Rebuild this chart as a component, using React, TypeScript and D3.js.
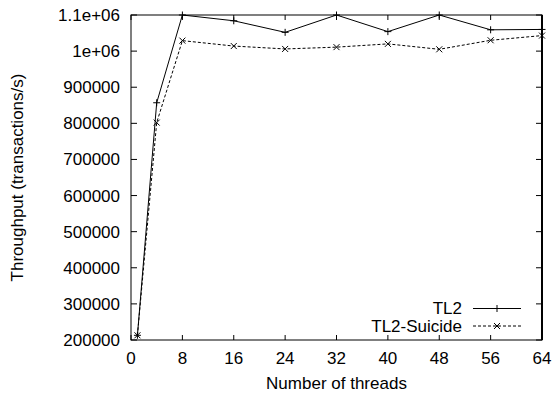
import React from "react";
import * as d3 from "d3";

const threads = [1, 4, 8, 16, 24, 32, 40, 48, 56, 64];
const tl2 = [213000, 857000, 1100000, 1084000, 1052000, 1100000, 1054000, 1100000, 1059000, 1060000];
const tl2Suicide = [213000, 802000, 1029000, 1014000, 1006000, 1011000, 1020000, 1005000, 1030000, 1043000];
const xTicks = [0, 8, 16, 24, 32, 40, 48, 56, 64];
const yTicks = [200000, 300000, 400000, 500000, 600000, 700000, 800000, 900000, 1000000, 1100000];
const yTickLabels = ["200000", "300000", "400000", "500000", "600000", "700000", "800000", "900000", "1e+06", "1.1e+06"];
const seriesNames = ["TL2", "TL2-Suicide"];

const W = 555, H = 394;
const L = 131, R = 542, T = 15, B = 340;
const FONT = "'Liberation Sans', Arial, Helvetica, sans-serif";
const FS = 17;

export default function App() {
  const x = d3.scaleLinear().domain([0, 64]).range([L, R]);
  const y = d3.scaleLinear().domain([200000, 1100000]).range([B, T]);
  const line = d3.line<[number, number]>().x(d => x(d[0])).y(d => y(d[1]));
  const d1 = line(threads.map((t, i) => [t, tl2[i]] as [number, number])) || "";
  const d2 = line(threads.map((t, i) => [t, tl2Suicide[i]] as [number, number])) || "";
  const tk = 5;
  const plus = (cx: number, cy: number, k: string) => (
    <path key={k} d={`M${cx - 3.5},${cy}H${cx + 3.5}M${cx},${cy - 3.5}V${cy + 3.5}`} stroke="#000" strokeWidth={1} fill="none" />
  );
  const cross = (cx: number, cy: number, k: string) => (
    <path key={k} d={`M${cx - 3},${cy - 3}L${cx + 3},${cy + 3}M${cx - 3},${cy + 3}L${cx + 3},${cy - 3}`} stroke="#000" strokeWidth={1} fill="none" />
  );
  const legX0 = 473, legX1 = 521, legTextX = 462;
  const legY = [308.5, 326];
  return (
    <svg width={W} height={H} style={{ position: "absolute", left: 0, top: 0, background: "#fff" }} fontFamily={FONT} fontSize={FS}>
      <rect x={0} y={0} width={W} height={H} fill="#fff" />
      {xTicks.map(t => (
        <g key={"xt" + t}>
          <line x1={x(t)} x2={x(t)} y1={B} y2={B - tk} stroke="#000" />
          <line x1={x(t)} x2={x(t)} y1={T} y2={T + tk} stroke="#000" />
          <text x={x(t)} y={364} textAnchor="middle">{t}</text>
        </g>
      ))}
      {yTicks.map((t, i) => (
        <g key={"yt" + t}>
          <line x1={L} x2={L + tk + 1} y1={y(t)} y2={y(t)} stroke="#000" />
          <line x1={R} x2={R - tk - 1} y1={y(t)} y2={y(t)} stroke="#000" />
          <text x={120} y={y(t)} dy="0.35em" textAnchor="end">{yTickLabels[i]}</text>
        </g>
      ))}
      <path d={d1} fill="none" stroke="#000" strokeWidth={1} />
      <path d={d2} fill="none" stroke="#000" strokeWidth={1} strokeDasharray="3,2" />
      {threads.map((t, i) => plus(x(t), y(tl2[i]), "p" + i))}
      {threads.map((t, i) => cross(x(t), y(tl2Suicide[i]), "c" + i))}
      <rect x={L} y={T} width={R - L} height={B - T} fill="none" stroke="#000" strokeWidth={1} />
      <line x1={R} x2={R} y1={T} y2={B} stroke="#000" strokeWidth={2} />
      <text x={legTextX} y={legY[0]} dy="0.35em" textAnchor="end">{seriesNames[0]}</text>
      <line x1={legX0} x2={legX1} y1={legY[0]} y2={legY[0]} stroke="#000" />
      {plus((legX0 + legX1) / 2, legY[0], "lp")}
      <text x={legTextX} y={legY[1]} dy="0.35em" textAnchor="end">{seriesNames[1]}</text>
      <line x1={legX0} x2={legX1} y1={legY[1]} y2={legY[1]} stroke="#000" strokeDasharray="3,2" />
      {cross((legX0 + legX1) / 2, legY[1], "lc")}
      <text x={(L + R) / 2} y={389} textAnchor="middle">Number of threads</text>
      <text transform={`translate(23,${(T + B) / 2}) rotate(-90)`} textAnchor="middle">Throughput (transactions/s)</text>
    </svg>
  );
}
